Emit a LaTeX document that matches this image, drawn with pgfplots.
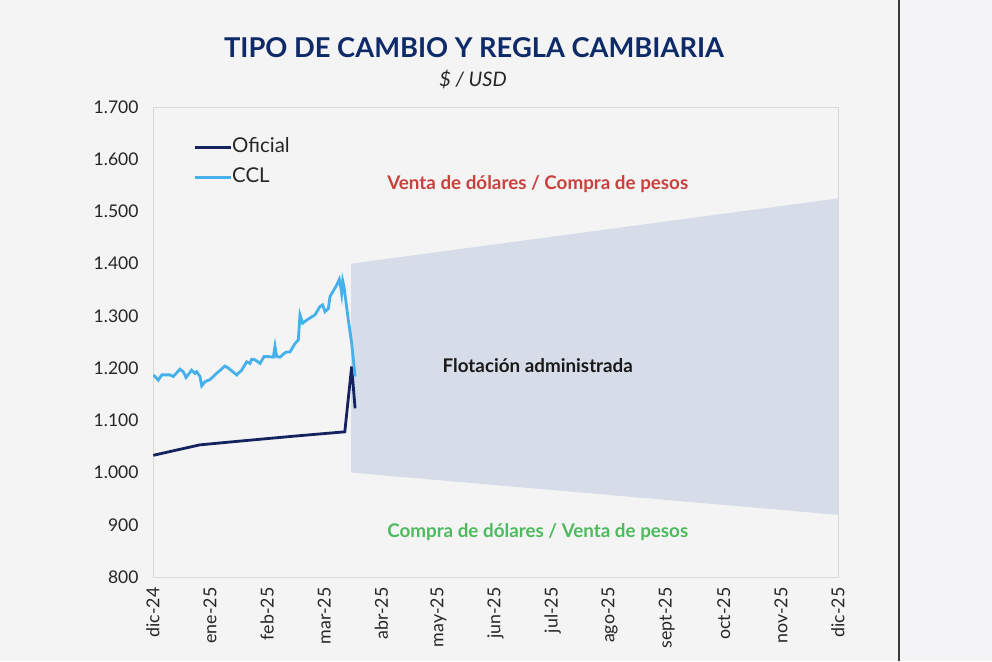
\documentclass[border=0pt]{standalone}
\usepackage{pgfplots}
\pgfplotsset{compat=1.18}
\usepackage{fontspec}
\setmainfont{Lato}
\definecolor{bg}{HTML}{F4F4F4}
\definecolor{bgr}{HTML}{F4F4F6}
\definecolor{darkline}{HTML}{3A3A3A}
\definecolor{titlec}{HTML}{0E2A68}
\definecolor{axgray}{HTML}{D9D9D9}
\definecolor{bandc}{HTML}{D6DCE8}
\definecolor{oficial}{HTML}{14235E}
\definecolor{ccl}{HTML}{45B0EA}
\definecolor{redc}{HTML}{C8413D}
\definecolor{greenc}{HTML}{4DBA5E}
\begin{document}
\begin{tikzpicture}
\useasboundingbox (0,0) rectangle (992pt,661pt);
\fill[bg] (0,0) rectangle (992pt,661pt);
\fill[bgr] (900pt,0) rectangle (992pt,661pt);
\draw[line width=1.8pt, darkline] (899pt,0) -- (899pt,661pt);
\node[font=\fontsize{27.3}{31}\selectfont\bfseries, text=titlec] at (474pt,613pt) {TIPO DE CAMBIO Y REGLA CAMBIARIA};
\node[font=\fontsize{20}{22}\selectfont\itshape, text=black!85] at (473pt,581pt) {\$ / USD};
\begin{axis}[
  at={(153pt,84pt)}, anchor=south west,
  scale only axis, width=685pt, height=470pt,
  xmin=0, xmax=12, ymin=800, ymax=1700,
  ytick={800,900,...,1700},
  xtick={0,...,12},
  xticklabels={dic-24,ene-25,feb-25,mar-25,abr-25,may-25,jun-25,jul-25,ago-25,sept-25,oct-25,nov-25,dic-25},
  xticklabel style={rotate=90, anchor=east, font=\fontsize{17.8}{20}\selectfont, text=black!85},
  xticklabel shift=7pt,
  yticklabel style={font=\fontsize{17.5}{19}\selectfont, text=black!85, xshift=-11pt},
  /pgf/number format/.cd, 1000 sep={.}, assume math mode=true,
  /pgfplots/.cd,
  tick style={draw=none},
  axis line style={draw=axgray, line width=0.8pt},
  axis background/.style={fill=bg},
  legend style={at={(0.0584,0.9355)}, anchor=north west, draw=none, fill=none,
    font=\fontsize{20.4}{22}\selectfont, text=black!85, row sep=10pt, inner sep=0pt,
    nodes={inner sep=0pt, text height=15pt, text depth=5pt}},
  legend cell align=left,
  legend image code/.code={\draw[#1, line width=3pt] (0pt,0pt) -- (36pt,0pt);},
]
\addplot[fill=bandc, draw=none, forget plot] coordinates {(3.47,1000) (12,919) (12,1525) (3.47,1400)} -- cycle;
\addplot[oficial, line width=2.8pt] coordinates {
(0.005,1033) (0.41,1043) (0.82,1053) (1.5,1060) (2.5,1070) (3.36,1078) (3.48,1203) (3.54,1123)};
\addlegendentry{Oficial}
\addplot[ccl, line width=2.8pt] coordinates {
(0.006,1187) (0.093,1177) (0.152,1187) (0.298,1187) (0.356,1184) (0.473,1198) (0.531,1193) (0.578,1182)
(0.677,1196) (0.736,1190) (0.765,1193) (0.823,1184) (0.853,1166) (0.911,1174) (0.999,1178) (1.057,1184)
(1.115,1190) (1.261,1204) (1.320,1200) (1.466,1187) (1.553,1196) (1.641,1212) (1.699,1209) (1.729,1217)
(1.787,1216) (1.875,1209) (1.945,1222) (2.021,1222) (2.108,1221) (2.137,1242) (2.167,1222) (2.225,1221)
(2.295,1228) (2.342,1231) (2.400,1231) (2.488,1247) (2.546,1254) (2.575,1302) (2.622,1286) (2.692,1292)
(2.838,1302) (2.926,1318) (2.972,1321) (3.013,1308) (3.072,1314) (3.101,1337) (3.218,1359) (3.264,1370)
(3.288,1356) (3.305,1343) (3.323,1367) (3.346,1356) (3.422,1292) (3.481,1247) (3.510,1216) (3.539,1184)};
\addlegendentry{CCL}
\node[font=\fontsize{18.8}{21}\selectfont\bfseries, text=redc] at (axis cs:6.74,1553) {Venta de dólares / Compra de pesos};
\node[font=\fontsize{18.8}{21}\selectfont\bfseries, text=black!90] at (axis cs:6.74,1204) {Flotación administrada};
\node[font=\fontsize{18.8}{21}\selectfont\bfseries, text=greenc] at (axis cs:6.74,886) {Compra de dólares / Venta de pesos};
\end{axis}
\end{tikzpicture}
\end{document}
